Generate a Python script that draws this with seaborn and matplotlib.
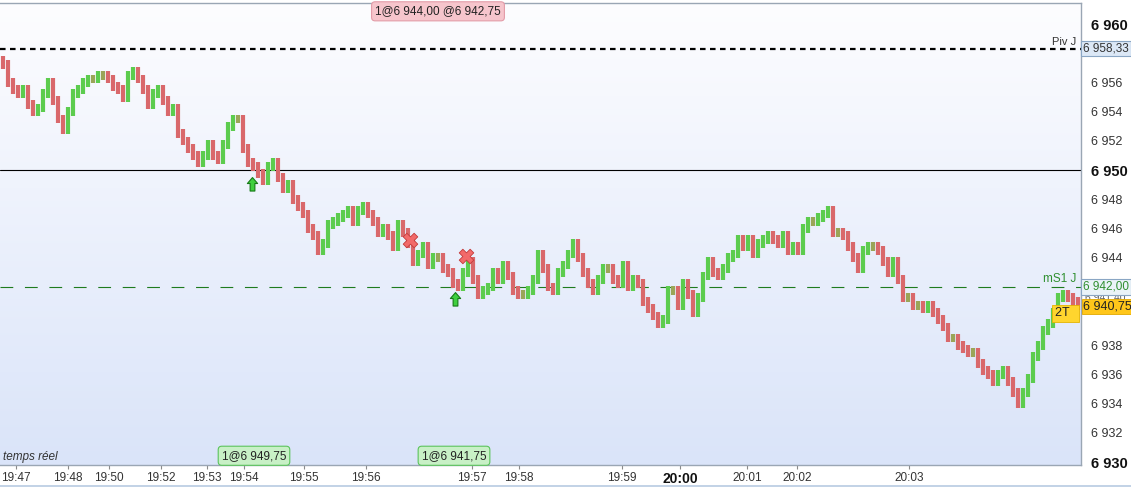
import numpy as np
import pandas as pd
import matplotlib
matplotlib.use("Agg")
import matplotlib.pyplot as plt
import matplotlib.transforms as mtransforms
from matplotlib.path import Path
from matplotlib.colors import LinearSegmentedColormap
from matplotlib.patches import Rectangle
import seaborn as sns

# clôtures des barres, une par barre de ticks
first_open = 6957.50
closes = [
    6957.25, 6956.0, 6955.5, 6955.25, 6955.5, 6954.5, 6954.0, 6954.25, 6955.25, 6956.0,
    6954.75, 6953.5, 6952.75, 6954.0, 6955.25, 6955.5, 6956.0, 6956.25, 6956.25, 6956.5,
    6956.5, 6956.25, 6955.75, 6955.5, 6955.0, 6956.5, 6956.75, 6956.25, 6955.5, 6954.5,
    6955.25, 6955.5, 6954.75, 6954.0, 6954.25, 6952.5, 6952.0, 6951.5, 6951.0, 6950.5,
    6951.0, 6951.75, 6951.0, 6950.75, 6951.75, 6953.0, 6953.5, 6953.5, 6951.5, 6950.5,
    6950.25, 6949.75, 6949.25, 6950.25, 6950.5, 6949.5, 6948.75, 6949.0, 6948.0, 6947.5,
    6947.0, 6946.0, 6945.5, 6944.5, 6945.0, 6946.25, 6946.5, 6946.75, 6947.0, 6947.25,
    6946.5, 6947.25, 6947.5, 6947.0, 6946.5, 6945.75, 6946.0, 6945.5, 6944.75, 6946.25,
    6945.75, 6945.0, 6943.75, 6944.25, 6944.75, 6943.5, 6944.0, 6944.0, 6943.25, 6943.0,
    6942.25, 6942.0, 6943.0, 6943.75, 6942.5, 6941.5, 6941.75, 6942.0, 6943.0, 6942.5,
    6943.5, 6942.75, 6941.75, 6941.5, 6941.5, 6941.75, 6942.5, 6944.25, 6943.25, 6942.0,
    6941.75, 6943.0, 6943.5, 6944.25, 6945.0, 6944.0, 6943.0, 6942.25, 6941.75, 6942.5,
    6943.25, 6943.25, 6942.5, 6942.25, 6943.5, 6942.0, 6942.5, 6942.25, 6941.0, 6940.5,
    6940.0, 6939.5, 6939.75, 6941.75, 6941.75, 6940.75, 6942.25, 6941.5, 6940.25, 6941.25,
    6942.75, 6943.75, 6943.0, 6942.75, 6943.25, 6944.0, 6944.25, 6945.25, 6944.75, 6945.25,
    6944.25, 6945.0, 6945.25, 6945.5, 6945.25, 6945.0, 6945.5, 6944.5, 6944.75, 6944.5,
    6946.0, 6946.5, 6946.5, 6946.75, 6947.0, 6947.25, 6945.75, 6945.75, 6945.5, 6944.75,
    6944.0, 6943.25, 6944.5, 6944.75, 6944.75, 6944.5, 6943.75, 6943.0, 6943.75, 6942.5,
    6941.25, 6941.25, 6940.75, 6940.75, 6940.5, 6940.75, 6940.25, 6939.75, 6939.25, 6938.5,
    6938.5, 6938.0, 6937.75, 6937.5, 6937.5, 6936.75, 6936.25, 6936.0, 6935.5, 6936.0,
    6936.25, 6935.5, 6934.75, 6934.0, 6934.75, 6935.75, 6937.25, 6938.0, 6939.0, 6939.5,
    6940.25, 6941.25, 6941.5, 6941.25, 6941.0, 6940.75,
]

# niveaux horizontaux
pivot_j = 6958.33
round_level = 6950.0
ms1_j = 6942.00
last_price = 6940.75

# axe du temps (position en barres)
time_pos = [2.7, 13.1, 21.3, 31.7, 40.9, 48.3, 60.3, 72.7, 93.9, 103.3,
            123.9, 135.5, 148.9, 158.9, 181.3]
time_lbl = ['19:47', '19:48', '19:50', '19:52', '19:53', '19:54', '19:55', '19:56',
            '19:57', '19:58', '19:59', '20:00', '20:01', '20:02', '20:03']

# axe des prix
price_ticks = [6930, 6932, 6934, 6936, 6938, 6940, 6942, 6944, 6946, 6948,
               6950, 6952, 6954, 6956, 6958, 6960]
price_lbl = ['6 930', '6 932', '6 934', '6 936', '6 938', '', '', '6 944', '6 946',
             '6 948', '6 950', '6 952', '6 954', '6 956', '', '6 960']

# ordres
buy_bar = [49.9, 90.5]
buy_price = [6949.0, 6941.1]
exit_bar = [81.5, 92.7]
exit_price = [6945.2, 6944.1]

GREEN = '#5ccc4e'
RED = '#d9686b'
OLIVE = '#9aa558'


def main():
    sns.set_style("white")
    plt.rcParams['font.family'] = ['Liberation Sans', 'DejaVu Sans']

    df = pd.DataFrame({'bar': np.arange(len(closes)), 'close': closes})
    df['open'] = df['close'].shift(1).fillna(first_open)
    df['high'] = df[['open', 'close']].max(axis=1) + 0.3
    df['low'] = df[['open', 'close']].min(axis=1) - 0.3
    df['col'] = np.where(df['close'] > df['open'], GREEN,
                         np.where(df['close'] < df['open'], RED, OLIVE))

    W, H = 1131, 487
    fig = plt.figure(figsize=(W / 100, H / 100), dpi=100)
    fig.patch.set_facecolor('white')
    ax = fig.add_axes([0, 22 / H, 1081 / W, 462 / H])

    # fond dégradé
    cmap = LinearSegmentedColormap.from_list('bg', ['#fdfdff', '#dae4f9'])
    grad = np.linspace(0, 1, 256).reshape(-1, 1)
    ax.imshow(grad, cmap=cmap, aspect='auto', extent=[0, 1, 0, 1],
              transform=ax.transAxes, zorder=0)

    ax.set_xlim(-0.5, 215.7)
    ax.set_ylim(6929.8, 6961.45)

    # niveaux
    ax.axhline(pivot_j, color='black', lw=1.6, ls=(0, (2.5, 2)), zorder=2)
    ax.axhline(round_level, color='black', lw=0.8, zorder=2)
    ax.axhline(ms1_j, color='#1e7b1e', lw=0.8, ls=(0, (11.5, 10.5)), zorder=2)

    # barres
    ax.vlines(df['bar'], df['low'], df['high'], colors=df['col'], linewidth=3.0, zorder=3)

    # ordres d'achat / sortie
    arrow = Path([(0, 1), (-0.65, 0.25), (-0.3, 0.25), (-0.3, -0.7), (0.3, -0.7),
                  (0.3, 0.25), (0.65, 0.25), (0, 1)],
                 [Path.MOVETO] + [Path.LINETO] * 6 + [Path.CLOSEPOLY])
    sns.scatterplot(x=buy_bar, y=buy_price, marker=arrow, s=130, color='#3fcf3f',
                    edgecolor='#167a16', linewidth=0.8, ax=ax, zorder=5)
    sns.scatterplot(x=exit_bar, y=exit_price, marker='X', s=110, color='#f26a6a',
                    edgecolor='#c23b3b', linewidth=0.6, ax=ax, zorder=5)

    # étiquettes des ordres
    xdata_ya = mtransforms.blended_transform_factory(ax.transData, ax.transAxes)
    ax.text(87.1, 0.982, '1@6 944,00 @6 942,75', transform=xdata_ya, ha='center',
            va='center', fontsize=8.5, color='#222',
            bbox=dict(boxstyle='round,pad=0.3', fc='#f6c5cc', ec='#e39ca8', lw=0.8), zorder=6)
    for bx, txt in [(50.3, '1@6 949,75'), (90.3, '1@6 941,75')]:
        ax.text(bx, 0.02, txt, transform=xdata_ya, ha='center', va='center',
                fontsize=8.5, color='#222',
                bbox=dict(boxstyle='round,pad=0.3', fc='#c8f0c6', ec='#5cc45c', lw=0.8),
                zorder=6)
    ax.text(0.003, 0.004, 'temps réel', transform=ax.transAxes, ha='left', va='bottom',
            fontsize=8.5, style='italic', color='#333')

    # noms des niveaux
    xa_yd = mtransforms.blended_transform_factory(ax.transAxes, ax.transData)
    ax.text(0.996, pivot_j + 0.12, 'Piv J', transform=xa_yd, ha='right', va='bottom',
            fontsize=8, color='#333')
    ax.text(0.996, ms1_j + 0.12, 'mS1 J', transform=xa_yd, ha='right', va='bottom',
            fontsize=8.5, color='#2f8f2f')

    # axe du temps
    ax.set_xticks(time_pos, time_lbl)
    ax.tick_params(axis='x', direction='out', length=3, width=0.8, color='#8a8a8a',
                   labelsize=8.5, labelcolor='#333', pad=2, bottom=True)
    for t in ax.get_xticklabels():
        if t.get_text() == '20:00':
            t.set_fontweight('bold')
            t.set_fontsize(10)
            t.set_color('#111')

    # axe des prix à droite
    ax.yaxis.tick_right()
    ax.set_yticks(price_ticks, price_lbl)
    ax.set_yticks(np.arange(6931, 6961, 2), minor=True)
    ax.tick_params(axis='y', which='major', direction='out', length=5, width=0.8,
                   color='#8a8a8a', labelsize=9, labelcolor='#333', pad=2)
    ax.tick_params(axis='y', which='minor', direction='out', length=3, width=0.8,
                   color='#8a8a8a')
    for t in ax.get_yticklabels():
        if t.get_text() in ('6 930', '6 950', '6 960'):
            t.set_fontweight('bold')
            t.set_fontsize(10.5)
            t.set_color('#111')

    # étiquettes de prix sur l'axe
    ax.text(1.002, pivot_j, '6 958,33', transform=xa_yd, ha='left', va='center',
            fontsize=8.5, color='#333', clip_on=False,
            bbox=dict(boxstyle='square,pad=0.15', fc='#dce8f6', ec='#8aa6c4', lw=0.8), zorder=7)
    ax.text(1.002, ms1_j, '6 942,00', transform=xa_yd, ha='left', va='center',
            fontsize=8.5, color='#2f8f2f', clip_on=False,
            bbox=dict(boxstyle='square,pad=0.15', fc='#eaf3f8', ec='#8aa6c4', lw=0.8), zorder=7)
    # étiquette grise presque masquée par le prix courant
    ax.text(1.004, 6941.3, '6 941,40', transform=xa_yd, ha='left', va='center',
            fontsize=7.5, color='#666', clip_on=False, zorder=6)
    ax.text(1.002, last_price - 0.1, '6 940,75', transform=xa_yd, ha='left', va='center',
            fontsize=9, color='#222', clip_on=False,
            bbox=dict(boxstyle='square,pad=0.12', fc='#ffc61a', ec='#e0a800', lw=0.6), zorder=8)
    ax.text(212.6, last_price - 0.55, '2T  ', ha='center', va='center', fontsize=9,
            color='#222', clip_on=False,
            bbox=dict(boxstyle='square,pad=0.2', fc='#ffd52e', ec='#e5b400', lw=0.6), zorder=7)

    # cadre
    sns.despine(ax=ax, left=True, top=False, right=False, bottom=False)
    for side in ('top', 'right', 'bottom'):
        ax.spines[side].set_color('#9aa6b4')
        ax.spines[side].set_linewidth(1)
    ax.set_xlabel('')
    ax.set_ylabel('')
    ax.grid(False)

    fig.patches.append(Rectangle((0, 0), 1, 2 / H, transform=fig.transFigure,
                                 facecolor='#c3d3e6', edgecolor='none'))

    fig.savefig('out.png', dpi=100)
    plt.close(fig)


if __name__ == '__main__':
    main()
